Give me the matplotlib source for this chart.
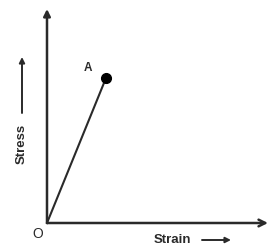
import matplotlib
matplotlib.use("Agg")
import matplotlib.pyplot as plt

# data (arbitrary units: origin O at 0,0)
strain = [0, 59]
stress = [0, 145]
point_label = "A"
origin_label = "O"
x_label = "Strain"
y_label = "Stress"

plt.rcParams["font.family"] = ["Liberation Sans", "DejaVu Sans"]

fig = plt.figure(figsize=(2.7, 2.48), dpi=100)
ax = fig.add_axes([0, 0, 1, 1])
ax.set_xlim(-47, 223)
ax.set_ylim(-25, 223)
ax.axis("off")

ink = "#2a2a2a"

# axes with arrows
ax.annotate("", xy=(0, 214), xytext=(0, 0),
            arrowprops=dict(arrowstyle="-|>", color=ink, lw=1.8,
                            mutation_scale=10, shrinkA=0, shrinkB=0))
ax.annotate("", xy=(221, 0), xytext=(0, 0),
            arrowprops=dict(arrowstyle="->", color=ink, lw=1.8,
                            mutation_scale=12, shrinkA=0, shrinkB=0))

# O -> A line
ax.plot(strain, stress, color=ink, lw=1.5)
ax.plot(strain[1], stress[1], "o", color="black", ms=7)
ax.text(strain[1] - 18, stress[1] + 10, point_label, fontsize=8.5,
        fontweight="bold", ha="center", va="center", color=ink)
ax.text(-9, -11, origin_label, fontsize=10, ha="center", va="center", color=ink)

# axis labels with arrows
ax.text(-25, 79, y_label, fontsize=9.5, rotation=90, ha="center", va="center",
        color=ink, fontweight="semibold")
ax.annotate("", xy=(-25, 166), xytext=(-25, 110),
            arrowprops=dict(arrowstyle="-|>", color=ink, lw=1.4,
                            mutation_scale=8, shrinkA=0, shrinkB=0))
ax.text(125, -17, x_label, fontsize=9.5, ha="center", va="center", color=ink,
        fontweight="semibold")
ax.annotate("", xy=(184, -17), xytext=(155, -17),
            arrowprops=dict(arrowstyle="-|>", color=ink, lw=1.4,
                            mutation_scale=8, shrinkA=0, shrinkB=0))

fig.savefig("out.png", dpi=100)
